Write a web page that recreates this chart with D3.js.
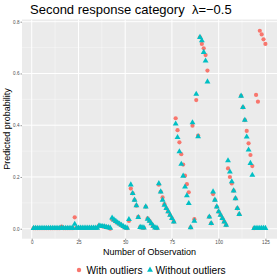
<!DOCTYPE html>
<html>
<head>
<meta charset="utf-8">
<script src="https://cdn.jsdelivr.net/npm/d3@7"></script>
<style>
  body { margin: 0; background: #fff; }
  svg { display: block; font-family: "Liberation Sans", Arial, sans-serif; }
</style>
</head>
<body>
<div id="chart"></div>
<script>
// observation numbers 1..125
const obs = d3.range(1, 126);

// predicted probability, model fitted with outliers (red circles)
const withOutliers = [
  0.002, 0.002, 0.002, 0.002, 0.002, 0.002, 0.002, 0.002, 0.002, 0.002,
  0.002, 0.002, 0.002, 0.002, 0.002, 0.008, 0.002, 0.002, 0.002, 0.002,
  0.002, 0.002, 0.044, 0.003, 0.003, 0.003, 0.003, 0.003, 0.003, 0.003,
  0.003, 0.003, 0.003, 0.003, 0.003, 0.012, 0.010, 0.009, 0.008, 0.006,
  0.005, 0.000, 0.036, 0.033, 0.027, 0.022, 0.017, 0.013, 0.008, 0.004,
  0.002, 0.030, 0.155, 0.137, 0.111, 0.089, 0.046, 0.006, 0.004, 0.003,
  0.085, 0.040, 0.030, 0.020, 0.009, 0.004, 0.002, 0.170, 0.143, 0.121,
  0.095, 0.079, 0.066, 0.053, 0.040, 0.027, 0.427, 0.381, 0.334, 0.288,
  0.248, 0.205, 0.172, 0.141, 0.005, 0.398, 0.037, 0.497, 0.360, 0.740,
  0.714, 0.697, 0.671, 0.611, 0.046, 0.021, 0.134, 0.111, 0.085, 0.066,
  0.053, 0.040, 0.027, 0.014, 0.233, 0.200, 0.175, 0.147, 0.117, 0.079,
  0.056, 0.513, 0.469, 0.420, 0.378, 0.330, 0.285, 0.242, 0.002, 0.517,
  0.491, 0.765, 0.751, 0.732, 0.714
];

// predicted probability, model fitted without outliers (teal triangles)
const withoutOutliers = [
  0.002, 0.002, 0.002, 0.002, 0.002, 0.002, 0.002, 0.002, 0.002, 0.002,
  0.002, 0.002, 0.002, 0.002, 0.002, 0.003, 0.002, 0.002, 0.002, 0.002,
  0.002, 0.002, 0.018, 0.003, 0.003, 0.003, 0.003, 0.003, 0.003, 0.003,
  0.003, 0.003, 0.003, 0.003, 0.003, 0.012, 0.010, 0.009, 0.008, 0.006,
  0.005, 0.003, 0.042, 0.035, 0.029, 0.024, 0.019, 0.014, 0.009, 0.005,
  0.003, 0.036, 0.170, 0.137, 0.111, 0.090, 0.044, 0.006, 0.005, 0.004,
  0.085, 0.037, 0.030, 0.020, 0.010, 0.004, 0.003, 0.175, 0.143, 0.111,
  0.092, 0.079, 0.066, 0.053, 0.040, 0.027, 0.405, 0.353, 0.298, 0.250,
  0.204, 0.162, 0.128, 0.098, 0.005, 0.410, 0.030, 0.520, 0.356, 0.740,
  0.727, 0.682, 0.649, 0.568, 0.046, 0.021, 0.143, 0.111, 0.085, 0.066,
  0.053, 0.040, 0.027, 0.014, 0.263, 0.220, 0.182, 0.147, 0.117, 0.079,
  0.056, 0.513, 0.469, 0.420, 0.355, 0.305, 0.253, 0.207, 0.002, 0.002,
  0.002, 0.002, 0.002, 0.002, 0.002
];

const xTicks = [0, 25, 50, 75, 100, 125];
const yTicks = [0, 0.2, 0.4, 0.6, 0.8];
const seriesNames = ["With outliers", "Without outliers"];
const seriesColors = ["#F8766D", "#00BFC4"];

const W = 280, H = 280;
const panel = { left: 22, right: 277, top: 19.5, bottom: 238.7 };

const svg = d3.select("#chart").append("svg")
  .attr("width", W).attr("height", H);

// ggplot style 5% expansion on both axes
const x = d3.scaleLinear()
  .domain([1 - 124 * 0.05, 125 + 124 * 0.05])
  .range([panel.left, panel.right]);
const y = d3.scaleLinear()
  .domain([-0.0385, 0.8085])
  .range([panel.bottom, panel.top]);

// panel background
svg.append("rect")
  .attr("x", panel.left).attr("y", panel.top)
  .attr("width", panel.right - panel.left)
  .attr("height", panel.bottom - panel.top)
  .attr("fill", "#EBEBEB");

// minor grid
const xMinor = xTicks.slice(0, -1).map(d => d + 12.5);
const yMinor = yTicks.slice(0, -1).map(d => d + 0.1);
const grid = svg.append("g");
grid.selectAll(".xmin").data(xMinor).enter().append("line")
  .attr("x1", d => x(d)).attr("x2", d => x(d))
  .attr("y1", panel.top).attr("y2", panel.bottom)
  .attr("stroke", "#fff").attr("stroke-width", 0.5).attr("stroke-opacity", 0.7);
grid.selectAll(".ymin").data(yMinor).enter().append("line")
  .attr("y1", d => y(d)).attr("y2", d => y(d))
  .attr("x1", panel.left).attr("x2", panel.right)
  .attr("stroke", "#fff").attr("stroke-width", 0.5).attr("stroke-opacity", 0.7);
// major grid
grid.selectAll(".xmaj").data(xTicks).enter().append("line")
  .attr("x1", d => x(d)).attr("x2", d => x(d))
  .attr("y1", panel.top).attr("y2", panel.bottom)
  .attr("stroke", "#fff").attr("stroke-width", 1);
grid.selectAll(".ymaj").data(yTicks).enter().append("line")
  .attr("y1", d => y(d)).attr("y2", d => y(d))
  .attr("x1", panel.left).attr("x2", panel.right)
  .attr("stroke", "#fff").attr("stroke-width", 1);

// axes
const xAxis = svg.append("g")
  .attr("transform", `translate(0,${panel.bottom})`)
  .call(d3.axisBottom(x).tickValues(xTicks).tickSize(1.5).tickPadding(0.5));
const yAxis = svg.append("g")
  .attr("transform", `translate(${panel.left},0)`)
  .call(d3.axisLeft(y).tickValues(yTicks).tickSize(1.5).tickPadding(1)
    .tickFormat(d3.format(".1f")));
[xAxis, yAxis].forEach(g => {
  g.select(".domain").remove();
  g.selectAll(".tick line").attr("stroke", "#333").attr("stroke-width", 0.5);
  g.selectAll(".tick text").attr("fill", "#4D4D4D")
    .attr("font-size", 4.6).attr("font-family", "Liberation Sans, Arial, sans-serif");
});

// points: circles first, triangles on top
const circles = svg.append("g");
circles.selectAll("circle").data(obs).enter().append("circle")
  .attr("cx", d => x(d))
  .attr("cy", (d, i) => y(withOutliers[i]))
  .attr("r", 2.1)
  .attr("fill", seriesColors[0]);

const tri = d3.symbol().type(d3.symbolTriangle).size(15);
const triangles = svg.append("g");
triangles.selectAll("path").data(obs).enter().append("path")
  .attr("d", tri)
  .attr("transform", (d, i) => `translate(${x(d)},${y(withoutOutliers[i])})`)
  .attr("fill", seriesColors[1]);

// titles
svg.append("text")
  .attr("x", 30).attr("y", 13.5)
  .attr("font-size", 13).attr("fill", "#000")
  .style("white-space", "pre")
  .text("Second response category  λ=−0.5");

svg.append("text")
  .attr("x", (panel.left + panel.right) / 2).attr("y", 254.5)
  .attr("text-anchor", "middle")
  .attr("font-size", 9).attr("fill", "#000")
  .text("Number of Observation");

svg.append("text")
  .attr("transform", `translate(10,${(panel.top + panel.bottom) / 2}) rotate(-90)`)
  .attr("text-anchor", "middle")
  .attr("font-size", 9).attr("fill", "#000")
  .text("Predicted probability");

// legend
const legend = svg.append("g").attr("transform", "translate(0,270)");
legend.append("circle").attr("cx", 79).attr("cy", 0).attr("r", 2.2)
  .attr("fill", seriesColors[0]);
legend.append("text").attr("x", 86.5).attr("y", 3.6)
  .attr("font-size", 10.2).text(seriesNames[0]);
legend.append("path").attr("d", tri)
  .attr("transform", "translate(150,0)").attr("fill", seriesColors[1]);
legend.append("text").attr("x", 155.5).attr("y", 3.6)
  .attr("font-size", 10.2).text(seriesNames[1]);
</script>
</body>
</html>
